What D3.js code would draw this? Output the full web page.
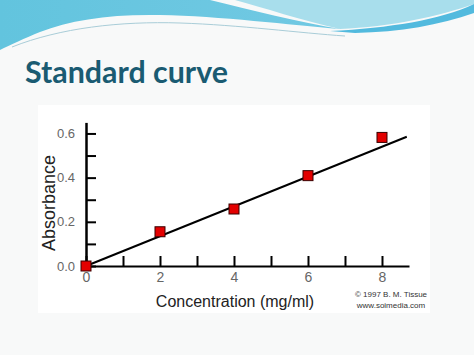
<!DOCTYPE html>
<html><head><meta charset="utf-8">
<script src="https://cdn.jsdelivr.net/npm/d3@7/dist/d3.min.js"></script>
<style>html,body{margin:0;padding:0;background:#f8f9f9;overflow:hidden}svg{display:block}</style>
</head><body>
<script>
// ---- data ----
const concentrations = [0, 2, 4, 6, 8];
const absorbances = [0.0, 0.155, 0.258, 0.409, 0.582];
const fitX = [0, 8.67];
const fitY = [0, 0.585];
const xTickValues = [0, 1, 2, 3, 4, 5, 6, 7, 8];
const xTickLabels = ["0", "", "2", "", "4", "", "6", "", "8"];
const yTickValues = [0, 0.1, 0.2, 0.3, 0.4, 0.5, 0.6];
const yTickLabels = ["0.0", "", "0.2", "", "0.4", "", "0.6"];
const titleText = "Standard curve";
const xLabel = "Concentration (mg/ml)";
const yLabel = "Absorbance";
const credits = ["\u00A9 1997 B. M. Tissue", "www.soimedia.com"];

const W = 474, H = 355;
const svg = d3.select("body").append("svg").attr("width", W).attr("height", H);

// background
svg.append("rect").attr("width", W).attr("height", H).attr("fill", "#f8f9f9");

// decorative waves
const defs = svg.append("defs");
const g1 = defs.append("linearGradient").attr("id", "gb").attr("x1", 0).attr("x2", 1).attr("y1", 0).attr("y2", 0);
g1.append("stop").attr("offset", "0%").attr("stop-color", "#62c4de");
g1.append("stop").attr("offset", "100%").attr("stop-color", "#72c9e3");
svg.append("path").attr("d", "M235,0 H474 V4 C440,16 390,27 340,29 C300,20 265,8 235,0 Z").attr("fill", "#a8deec");
svg.append("path").attr("d", "M0,0 H210 C250,10 300,22 340,29 C290,25 220,16 160,15 C110,14 70,20 40,32 C25,38 10,45 0,50 Z").attr("fill", "url(#gb)");
svg.append("path").attr("d", "M330,31 C390,28 440,20 474,4 V13 C440,25 400,32 355,33 Z").attr("fill", "#52bade");
svg.append("path").attr("d", "M12,47 C60,28 120,21 180,23 C240,25 300,33 345,36").attr("fill", "none").attr("stroke", "#a9cdd8").attr("stroke-width", 1);

// title
const title = svg.append("text").attr("x", 25).attr("y", 83)
  .attr("font-family", "Lato, sans-serif").attr("font-weight", "bold")
  .attr("font-size", 30).attr("fill", "#1a5b72").text(titleText);
const tw = title.node().getComputedTextLength();
if (tw > 203) title.attr("textLength", 203).attr("lengthAdjust", "spacingAndGlyphs");
else title.attr("font-size", 30 * 203 / tw);

// chart panel
svg.append("rect").attr("x", 38).attr("y", 105).attr("width", 392).attr("height", 208).attr("fill", "#ffffff");

// scales
const x = d3.scaleLinear().domain([0, 8.73]).range([86, 409]);
const y = d3.scaleLinear().domain([0, 0.65]).range([266, 122.4]);

// x axis
const xAxis = svg.append("g").attr("transform", `translate(0,${y(0)})`)
  .call(d3.axisBottom(x).tickValues(xTickValues).tickSizeInner(-10).tickSizeOuter(0)
    .tickPadding(5).tickFormat((d, i) => xTickLabels[i]));
xAxis.select(".domain").attr("stroke", "#000").attr("stroke-width", 2);
xAxis.selectAll(".tick line").attr("stroke", "#000").attr("stroke-width", 2);
xAxis.selectAll(".tick text").attr("font-family", "Liberation Sans, Arial, sans-serif")
  .attr("font-size", 14).attr("fill", "#666").attr("y", 6);

// y axis
const yAxis = svg.append("g").attr("transform", `translate(${x(0)},0)`)
  .call(d3.axisLeft(y).tickValues(yTickValues).tickSizeInner(-10).tickSizeOuter(0)
    .tickPadding(0).tickFormat((d, i) => yTickLabels[i]));
yAxis.select(".domain").attr("stroke", "#000").attr("stroke-width", 2.5);
yAxis.selectAll(".tick line").attr("stroke", "#000").attr("stroke-width", 2);
yAxis.selectAll(".tick text").attr("font-family", "Liberation Sans, Arial, sans-serif")
  .attr("font-size", 13).attr("fill", "#666").attr("x", -11);

// fit line
const fit = fitX.map((v, i) => [v, fitY[i]]);
svg.append("path").datum(fit)
  .attr("d", d3.line().x(d => x(d[0])).y(d => y(d[1])))
  .attr("stroke", "#000").attr("stroke-width", 2).attr("fill", "none");

// markers
const pts = concentrations.map((c, i) => ({ c, a: absorbances[i] }));
const s = 10;
svg.append("g").selectAll("rect").data(pts).join("rect")
  .attr("x", d => x(d.c) - s / 2).attr("y", d => y(d.a) - s / 2)
  .attr("width", s).attr("height", s)
  .attr("fill", "#e30000").attr("stroke", "#3a0000").attr("stroke-width", 1);

// axis labels
svg.append("text").attr("x", 235).attr("y", 307).attr("text-anchor", "middle")
  .attr("font-family", "Liberation Sans, Arial, sans-serif").attr("font-size", 16)
  .attr("fill", "#222").text(xLabel);
svg.append("text").attr("transform", "translate(55,203) rotate(-90)").attr("text-anchor", "middle")
  .attr("font-family", "Liberation Sans, Arial, sans-serif").attr("font-size", 18)
  .attr("fill", "#222").text(yLabel);

// credits
credits.forEach((t, i) => {
  svg.append("text").attr("x", 391).attr("y", 297 + i * 11).attr("text-anchor", "middle")
    .attr("font-family", "Liberation Sans, Arial, sans-serif").attr("font-size", 8)
    .attr("fill", "#333").text(t);
});
</script>
</body></html>
